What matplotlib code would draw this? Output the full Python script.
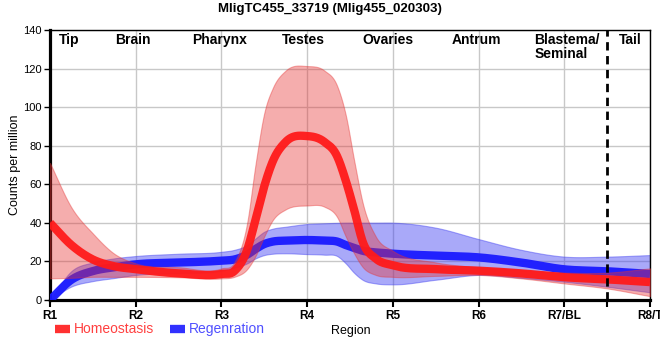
import numpy as np
import matplotlib
matplotlib.use("Agg")
import matplotlib.pyplot as plt
from matplotlib.lines import Line2D

plt.rcParams['font.family'] = ['Liberation Sans', 'DejaVu Sans']

# ---------------- data ----------------
title = "MligTC455_33719 (Mlig455_020303)"
tick_pos = [1, 2, 3, 4, 5, 6, 7, 8]
tick_labels = ["R1", "R2", "R3", "R4", "R5", "R6", "R7/BL", "R8/T"]
region_names = ["Tip", "Brain", "Pharynx", "Testes", "Ovaries", "Antrum", "Blastema/\nSeminal", "Tail"]

pos = [1, 1.25, 1.5, 1.75, 2, 2.5, 3, 3.15, 3.3, 3.4, 3.5, 3.6, 3.75, 4,
       4.2, 4.35, 4.45, 4.55, 4.65, 4.8, 5, 5.5, 6, 6.5, 7, 7.5, 8]

homeo_mean = [40, 28.5, 21, 17.5, 16, 13.8, 13.5, 15, 26, 42, 59, 72, 82, 85,
              82, 74.5, 62, 46.5, 30, 21.5, 18, 16, 15.2, 13.8, 11.8, 10.7, 9.3]
homeo_upper = [71, 48, 34.5, 24, 19, 17, 16.4, 19.5, 40, 71, 97, 110, 119, 121.3,
               119, 111, 96, 72, 50, 33, 25.5, 19.5, 17, 15.5, 14.2, 14.2, 16.4]
homeo_lower = [11.2, 11.5, 12, 12, 12, 11.8, 11.2, 12, 16, 23, 33, 41.5, 47, 49,
               48.4, 43, 33, 24, 17, 13, 12, 12.5, 13, 11.2, 8.6, 6, 2]

regen_mean = [0, 10.5, 15, 17, 18.5, 19.4, 20.4, 21, 23.5, 26.5, 29, 30.3, 30.8, 31.1,
              30.8, 30.3, 28.5, 27, 25.5, 24.7, 24, 23, 22.1, 19.4, 15.9, 14.9, 13.5]
regen_upper = [0, 15, 19.5, 21.6, 22.8, 24, 25, 26, 28.5, 32, 35.4, 37, 38, 39.4,
               39.8, 40, 40.1, 40.1, 40.1, 40.1, 40.1, 37.5, 31.6, 26, 22.5, 22.5, 23.3]
regen_lower = [0, 7, 9.8, 11.4, 13, 14, 15.2, 16.8, 19, 21.6, 23.3, 24, 24.2, 23.8,
               23.5, 22.8, 19, 14, 10.4, 8.6, 8.1, 10.5, 13, 11.5, 9.5, 6.9, 4]

series_names = ["Homeostasis", "Regenration"]


# ---------------- smooth rendering (cubic Hermite, centred tangents) ----------------
def smooth(x, y, xs):
    x = np.asarray(x, float); y = np.asarray(y, float)
    h = np.diff(x); d = np.diff(y) / h
    m = np.zeros_like(y)
    for k in range(1, len(x) - 1):
        m[k] = (d[k - 1] * h[k] + d[k] * h[k - 1]) / (h[k - 1] + h[k])
    m[0] = d[0]; m[-1] = d[-1]
    idx = np.clip(np.searchsorted(x, xs) - 1, 0, len(x) - 2)
    t = (xs - x[idx]) / h[idx]
    h00 = 2 * t**3 - 3 * t**2 + 1; h10 = t**3 - 2 * t**2 + t
    h01 = -2 * t**3 + 3 * t**2; h11 = t**3 - t**2
    return h00 * y[idx] + h10 * h[idx] * m[idx] + h01 * y[idx + 1] + h11 * h[idx] * m[idx + 1]


xs = np.linspace(pos[0], pos[-1], 1000)

W, H = 660, 360
fig = plt.figure(figsize=(W / 100, H / 100), dpi=100)
ax = fig.add_axes([50 / W, 1 - 300 / H, 600 / W, 270 / H])

red = '#ff1a1a'
blue = '#1a1aff'
red_band = (0.9, 0.2, 0.2)
blue_band = (0.25, 0.25, 0.95)

# regeneration band + line
ax.fill_between(xs, smooth(pos, regen_lower, xs), smooth(pos, regen_upper, xs),
                color=blue_band, alpha=0.45, lw=0.8, edgecolor=(0.25, 0.25, 0.95, 0.5), zorder=2)
ax.plot(xs, smooth(pos, regen_mean, xs), color=blue, lw=6, alpha=0.95, solid_capstyle='butt', zorder=3)
# homeostasis band + line
ax.fill_between(xs, smooth(pos, homeo_lower, xs), smooth(pos, homeo_upper, xs),
                color=red_band, alpha=0.4, lw=0.8, edgecolor=(0.9, 0.2, 0.2, 0.5), zorder=4)
ax.plot(xs, smooth(pos, homeo_mean, xs), color=red, lw=6, alpha=0.95, solid_capstyle='butt', zorder=5)

ax.axvline(7.5, color='black', lw=2, ls=(0, (3, 2)), zorder=6)

ax.set_xlim(1, 8)
ax.set_ylim(0, 140)
ax.set_xticks(tick_pos)
ax.set_xticklabels(tick_labels, fontweight='bold', fontsize=8.5)
ax.set_xticks([7.5], minor=True)
ax.set_yticks(np.arange(0, 141, 20))
ax.tick_params(axis='y', labelsize=8, length=4, width=1, pad=2)
ax.tick_params(axis='x', which='both', length=5, width=1.5, pad=2)
ax.grid(True, color='#c8c8c8', lw=1)
ax.set_axisbelow(True)
for s in ['left', 'bottom']:
    ax.spines[s].set_linewidth(2.3)
for s in ['top', 'right']:
    ax.spines[s].set_linewidth(1)

ax.set_ylabel("Counts per million", fontsize=9, labelpad=1.5)

# region names at top
region_x = [1.22, 1.97, 2.98, 3.96, 4.94, 5.97, 6.65, 7.77]
for nm, xp in zip(region_names, region_x):
    ha = 'left' if '\n' in nm else 'center'
    ax.text(xp, 138.5, nm, ha=ha, va='top', fontsize=10, fontweight='bold',
            linespacing=1.0, zorder=7)

fig.text(330 / W, 1 - 9 / H, title, ha='center', va='center', fontsize=9.5, fontweight='bold')
fig.text(351 / W, 1 - 331 / H, "Region", ha='center', va='center', fontsize=9)

# legend
leg_items = [(55, red, '#ff4040'), (170, blue, '#5050ff')]
for (x0, lc, tc), nm in zip(leg_items, series_names):
    fig.add_artist(Line2D([x0 / W, (x0 + 15) / W], [1 - 329 / H, 1 - 329 / H],
                          transform=fig.transFigure, color=lc, lw=6, alpha=0.9,
                          solid_capstyle='butt'))
    fig.text((x0 + 19) / W, 1 - 329 / H, nm, ha='left', va='center', fontsize=10, color=tc)

fig.savefig("out.png", dpi=100)
